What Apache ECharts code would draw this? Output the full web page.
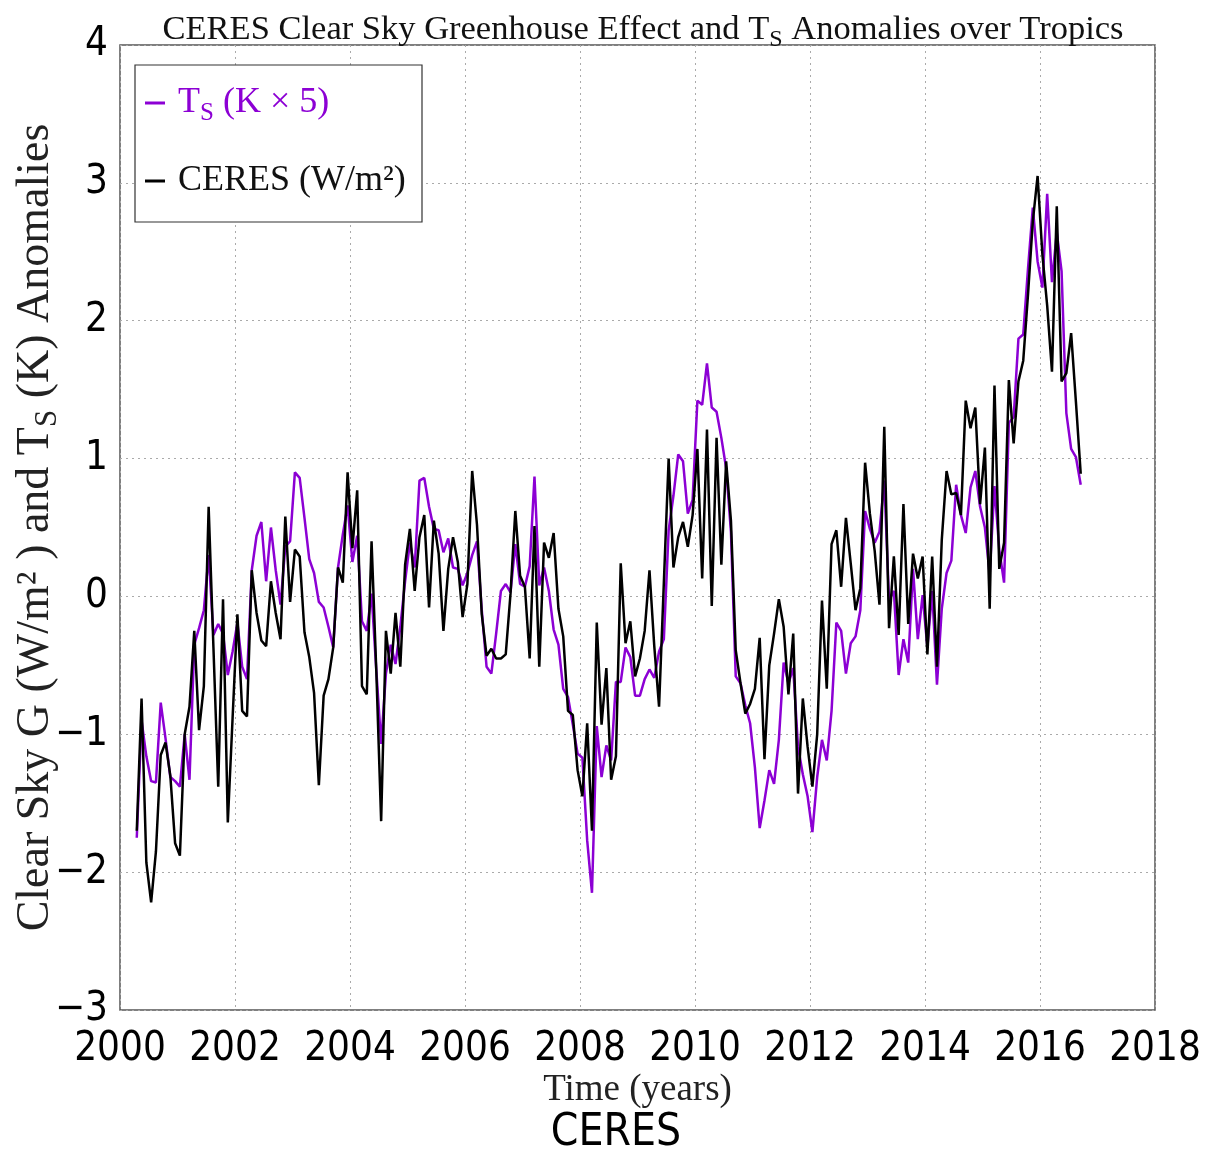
<!DOCTYPE html>
<html>
<head>
<meta charset="utf-8">
<script src="https://cdn.jsdelivr.net/npm/echarts@6/dist/echarts.min.js"></script>
<style>html,body{margin:0;padding:0;background:#fff}#c{width:1220px;height:1158px}</style>
</head>
<body>
<div id="c"></div>
<script>
// Monthly anomalies, April 2000 .. September 2016 (one value per month)
const startYear = 2000;
const startMonthIndex = 3; // 0 = January, so 3 = April
const xTicks = [2000, 2002, 2004, 2006, 2008, 2010, 2012, 2014, 2016, 2018];
const yTicks = [-3, -2, -1, 0, 1, 2, 3, 4];

const ceresValues = [
  -1.70, -0.74, -1.93, -2.22, -1.85, -1.15, -1.06, -1.30, -1.79,
  -1.88, -1.00, -0.80, -0.25, -0.97, -0.65, 0.65, -0.37, -1.38, -0.02, -1.64, -0.88,
  -0.13, -0.83, -0.87, 0.19, -0.12, -0.32, -0.36, 0.11, -0.12, -0.31, 0.58, -0.04,
  0.34, 0.29, -0.26, -0.44, -0.70, -1.37, -0.72, -0.60, -0.37, 0.21, 0.10, 0.90,
  0.35, 0.77, -0.65, -0.71, 0.40, -0.55, -1.63, -0.25, -0.56, -0.12, -0.51, 0.23,
  0.49, 0.04, 0.43, 0.59, -0.08, 0.55, 0.31, -0.25, 0.20, 0.43, 0.25, -0.15,
  0.09, 0.91, 0.52, -0.13, -0.43, -0.38, -0.45, -0.45, -0.42, 0.02, 0.62, 0.15,
  0.07, -0.45, 0.51, -0.51, 0.39, 0.28, 0.46, -0.09, -0.29, -0.83, -0.86, -1.26,
  -1.45, -0.92, -1.70, -0.19, -0.93, -0.52, -1.33, -1.16, 0.24, -0.34, -0.18, -0.58,
  -0.45, -0.25, 0.19, -0.36, -0.80, 0.10, 1.00, 0.21, 0.43, 0.54, 0.36, 0.59,
  1.07, 0.13, 1.21, -0.07, 1.15, 0.23, 0.98, 0.55, -0.39, -0.63, -0.85, -0.78,
  -0.67, -0.30, -1.18, -0.50, -0.27, -0.02, -0.22, -0.71, -0.27, -1.43, -0.74, -1.09,
  -1.38, -1.00, -0.03, -0.67, 0.38, 0.48, 0.07, 0.57, 0.24, -0.10, 0.06, 0.97,
  0.60, 0.33, -0.06, 1.23, -0.23, 0.29, -0.28, 0.67, -0.20, 0.31, 0.13, 0.29,
  -0.42, 0.29, -0.51, 0.41, 0.91, 0.74, 0.75, 0.59, 1.42, 1.22, 1.37, 0.67,
  1.08, -0.09, 1.53, 0.20, 0.39, 1.57, 1.11, 1.56, 1.71, 2.19, 2.72, 3.05,
  2.48, 2.11, 1.63, 2.83, 1.56, 1.62, 1.91, 1.41, 0.89
];

const tsValues = [
  -1.75, -0.90, -1.16, -1.34, -1.35, -0.77, -1.03, -1.31, -1.34,
  -1.38, -1.00, -1.33, -0.35, -0.23, -0.10, 0.30, -0.28, -0.20, -0.27, -0.57, -0.40,
  -0.19, -0.51, -0.60, 0.19, 0.44, 0.54, 0.11, 0.50, 0.19, -0.06, 0.36, 0.40,
  0.90, 0.86, 0.57, 0.27, 0.17, -0.04, -0.08, -0.22, -0.37, 0.21, 0.45, 0.66,
  0.25, 0.44, -0.18, -0.25, 0.02, -0.54, -1.07, -0.56, -0.35, -0.49, -0.22, 0.11,
  0.39, 0.21, 0.84, 0.86, 0.65, 0.49, 0.48, 0.32, 0.42, 0.21, 0.20, 0.08,
  0.17, 0.30, 0.40, -0.10, -0.51, -0.56, -0.27, 0.04, 0.09, 0.03, 0.38, 0.09,
  0.07, 0.22, 0.87, 0.08, 0.21, 0.04, -0.24, -0.35, -0.67, -0.73, -0.93, -1.14,
  -1.17, -1.77, -2.15, -0.94, -1.31, -1.08, -1.19, -0.62, -0.62, -0.37, -0.44, -0.72,
  -0.72, -0.60, -0.53, -0.59, -0.40, -0.31, 0.48, 0.73, 1.03, 0.98, 0.60, 0.70,
  1.42, 1.39, 1.69, 1.37, 1.34, 1.15, 0.93, 0.47, -0.58, -0.63, -0.79, -0.92,
  -1.24, -1.68, -1.48, -1.26, -1.36, -1.04, -0.48, -0.63, -0.52, -1.09, -1.29, -1.45,
  -1.71, -1.31, -1.04, -1.19, -0.83, -0.19, -0.25, -0.56, -0.34, -0.29, -0.10, 0.62,
  0.49, 0.39, 0.47, 0.84, -0.03, 0.04, -0.57, -0.31, -0.48, 0.20, -0.31, 0.01,
  -0.37, 0.04, -0.64, -0.09, 0.17, 0.26, 0.81, 0.59, 0.46, 0.79, 0.91, 0.65,
  0.50, 0.16, 0.80, 0.34, 0.10, 1.26, 1.30, 1.87, 1.90, 2.38, 2.82, 2.43,
  2.24, 2.92, 2.28, 2.64, 2.36, 1.33, 1.07, 1.01, 0.81
];

// decimal-year time stamp of each month (mid-month)
const times = ceresValues.map((_, i) => startYear + (startMonthIndex + i + 0.5) / 12);
const pair = (vals) => vals.map((v, i) => [times[i], v]);

const serif = "'Liberation Serif', 'DejaVu Serif', serif";
const narrow = "'DejaVu Sans Condensed', 'DejaVu Sans', sans-serif";
const purple = '#8c00d4';

const chart = echarts.init(document.getElementById('c'), null, {renderer: 'canvas'});
chart.setOption({
  animation: false,
  backgroundColor: '#fff',
  title: {
    text: '{a|CERES Clear Sky Greenhouse Effect and T}{s|S}{a| Anomalies over Tropics}',
    left: 638, top: 3, textAlign: 'center',
    textStyle: {
      fontWeight: 'normal',
      rich: {
        a: {fontFamily: serif, fontSize: 34.5, fontWeight: 'normal', color: '#111'},
        s: {fontFamily: serif, fontSize: 24, fontWeight: 'normal', color: '#111', padding: [20, 0, 0, 0]}
      }
    }
  },
  grid: {left: 120, right: 65, top: 45, bottom: 148, show: true, borderColor: '#555', borderWidth: 1.5,
    backgroundColor: 'transparent', outerBoundsMode: 'none', containLabel: false},
  xAxis: {
    type: 'value', min: xTicks[0], max: xTicks[xTicks.length - 1], interval: 2,
    axisLine: {show: false}, axisTick: {show: false},
    splitLine: {show: true, lineStyle: {color: '#aaa', type: [2, 4], width: 1}},
    axisLabel: {fontFamily: narrow, fontSize: 40, color: '#000', margin: 20,
      formatter: v => String(v)},
    name: 'Time (years)', nameLocation: 'middle', nameGap: 62, nameMoveOverlap: false,
    nameTextStyle: {fontFamily: serif, fontSize: 37, color: '#222'}
  },
  yAxis: {
    type: 'value', min: yTicks[0], max: yTicks[yTicks.length - 1], interval: 1,
    axisLine: {show: false}, axisTick: {show: false},
    splitLine: {show: true, lineStyle: {color: '#aaa', type: [2, 4], width: 1}},
    axisLabel: {fontFamily: narrow, fontSize: 40, color: '#000', margin: 12,
      formatter: v => String(v).replace('-', '\u2212')},
    name: '{a|Clear Sky G (W/m² ) and T}{s|S}{a| (K) Anomalies}',
    nameLocation: 'middle', nameGap: 57, nameRotate: 90, nameMoveOverlap: false,
    nameTextStyle: {
      rich: {
        a: {fontFamily: serif, fontSize: 46, color: '#222'},
        s: {fontFamily: serif, fontSize: 31, color: '#222', padding: [24, 0, 0, 0]}
      }
    }
  },
  graphic: [
    {type: 'rect', z: 50, shape: {x: 135, y: 65, width: 287, height: 157},
      style: {fill: '#fff', stroke: '#333', lineWidth: 1.2}},
    {type: 'text', z: 50, x: 616, y: 1112,
      style: {text: 'CERES', fontFamily: narrow, fontSize: 44, fill: '#000', textAlign: 'center'}}
  ],
  legend: [
    {data: ['Ts'], left: 140, top: 80, z: 60, icon: 'rect', itemWidth: 20, itemHeight: 3, itemGap: 0,
      formatter: () => '{g|}{a|T}{s|S}{a| (K × 5)}',
      textStyle: {rich: {
        g: {width: 8},
        a: {fontFamily: serif, fontSize: 36, color: purple},
        s: {fontFamily: serif, fontSize: 25, color: purple, padding: [20, 0, 0, 0]}
      }}},
    {data: ['CERES'], left: 140, top: 158, z: 60, icon: 'rect', itemWidth: 20, itemHeight: 3, itemGap: 0,
      formatter: () => '{g|}{a|CERES (W/m²)}',
      textStyle: {rich: {g: {width: 8}, a: {fontFamily: serif, fontSize: 36, color: '#111'}}}}
  ],
  series: [
    {name: 'Ts', type: 'line', data: pair(tsValues), showSymbol: false, symbol: 'none',
      lineStyle: {color: purple, width: 2.5}, itemStyle: {color: purple}, z: 3},
    {name: 'CERES', type: 'line', data: pair(ceresValues), showSymbol: false, symbol: 'none',
      lineStyle: {color: '#000', width: 2.5}, itemStyle: {color: '#000'}, z: 4}
  ]
});
</script>
</body>
</html>
